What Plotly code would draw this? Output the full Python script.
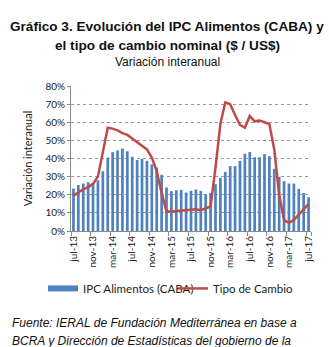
import plotly.graph_objects as go

meses = ["ene", "feb", "mar", "abr", "may", "jun", "jul", "ago", "sep", "oct", "nov", "dic"]
categorias = []
for k in range(49):
    m = (6 + k) % 12
    a = 13 + (6 + k) // 12
    categorias.append(f"{meses[m]}-{a}")

ipc_alimentos = [23.4, 25.4, 26.2, 26.9, 26.5, 28.0, 33.0, 40.5, 43.5, 44.4,
                 45.5, 44.0, 41.0, 39.2, 39.8, 38.7, 36.7, 35.0, 31.0, 24.0,
                 22.0, 22.5, 22.7, 21.2, 22.2, 22.9, 22.1, 20.3, 21.0, 25.8,
                 29.3, 32.6, 35.8, 35.8, 38.7, 42.6, 43.6, 40.7, 40.7, 42.4,
                 41.3, 34.3, 29.9, 27.5, 26.2, 26.2, 23.2, 21.0, 18.6]

tipo_cambio = [19.5, 21.5, 23.0, 24.2, 26.0, 30.0, 44.0, 57.0, 56.5, 55.5,
               54.0, 53.0, 51.0, 49.0, 47.0, 45.0, 40.5, 33.0, 21.0, 10.8,
               10.8, 11.0, 11.2, 11.5, 12.0, 12.0, 11.5, 12.5, 13.5, 35.0,
               59.0, 71.0, 70.0, 64.0, 58.5, 57.0, 63.5, 60.5, 61.0, 60.0,
               59.0, 45.0, 20.0, 6.0, 4.5, 6.0, 9.0, 12.5, 15.0]

tick_labels = categorias[::4]
y_ticks = [0, 10, 20, 30, 40, 50, 60, 70, 80]

BLUE = "#4f81bd"
RED = "#be4b48"

fig = go.Figure()
fig.add_trace(go.Bar(x=categorias, y=ipc_alimentos, name="IPC Alimentos (CABA)",
                     marker=dict(color=BLUE, line=dict(width=0)), showlegend=False,
                     legendgroup="ipc"))
# legend entry drawn as a wide flat rectangle, like the reference's swatch
fig.add_trace(go.Scatter(x=[None], y=[None], name="IPC Alimentos (CABA)", mode="lines",
                         line=dict(color=BLUE, width=6), legendgroup="ipc", legend="legend"))
fig.add_trace(go.Scatter(x=categorias, y=tipo_cambio, name="Tipo de Cambio",
                         mode="lines", line=dict(color=RED, width=2.5), legend="legend2"))

tick_font = dict(family="Lato, Arial, sans-serif", size=10, color="#222")

def ypos(Y):
    return (230.7 - Y) / 144.7

def xpos(X):
    return (X - 71) / 240

legend_font = dict(family="Lato, Arial, sans-serif", size=11.5, color="#222")

fig.update_layout(
    width=329, height=347,
    margin=dict(l=71, r=18, t=86, b=116),
    plot_bgcolor="white", paper_bgcolor="white",
    bargap=0.45,
    showlegend=True,
    legend=dict(orientation="h", x=xpos(43), y=ypos(288), xanchor="left", yanchor="middle",
                font=legend_font, itemwidth=30, bgcolor="rgba(0,0,0,0)"),
    legend2=dict(orientation="h", x=xpos(173), y=ypos(288), xanchor="left", yanchor="middle",
                 font=legend_font, itemwidth=30, bgcolor="rgba(0,0,0,0)"),
    font=dict(family="Liberation Sans, Arial, sans-serif"),
)
fig.update_xaxes(
    type="category", tickmode="array", tickvals=tick_labels, ticktext=tick_labels,
    tickangle=-90, tickfont=tick_font, showline=True, linecolor="#888", linewidth=1,
    ticks="outside", ticklen=4, tickcolor="#888", tickson="boundaries",
    showgrid=False, range=[-0.5, 48.5],
)
fig.update_yaxes(
    range=[0, 80], tickvals=y_ticks, ticktext=[f"{v}%" for v in y_ticks],
    tickfont=tick_font, showline=True, linecolor="#888", linewidth=1,
    ticks="outside", ticklen=3, tickcolor="#888",
    showgrid=True, gridcolor="#999", griddash="dot", gridwidth=1,
    zeroline=False,
    title=dict(text="Variación interanual", font=dict(family="Lato, Arial, sans-serif", size=11, color="#222"), standoff=10),
)

annots = [
    dict(text="<b>Gráfico 3. Evolución del IPC Alimentos (CABA) y</b>", y=ypos(26.5), x=167, size=13.6),
    dict(text="<b>el tipo de cambio nominal ($ / US$)</b>", y=ypos(45.5), x=167, size=13.6),
    dict(text="Variación interanual", y=ypos(62), x=167, size=12),
]
for a in annots:
    fig.add_annotation(text=a["text"], xref="paper", yref="paper",
                       x=xpos(a["x"]), y=a["y"], xanchor="center", yanchor="middle",
                       showarrow=False,
                       font=dict(family="Liberation Sans, Arial, sans-serif", size=a["size"], color="#111"))

for txt, Y in [("Fuente: IERAL de Fundación Mediterránea en base a", 323),
               ("BCRA y Dirección de Estadísticas del gobierno de la", 340)]:
    fig.add_annotation(text=f"<i>{txt}</i>", xref="paper", yref="paper",
                       x=xpos(10), y=ypos(Y), xanchor="left", yanchor="middle",
                       showarrow=False,
                       font=dict(family="Liberation Sans, Arial, sans-serif", size=12, color="#111"))

fig.write_html("out.html")
